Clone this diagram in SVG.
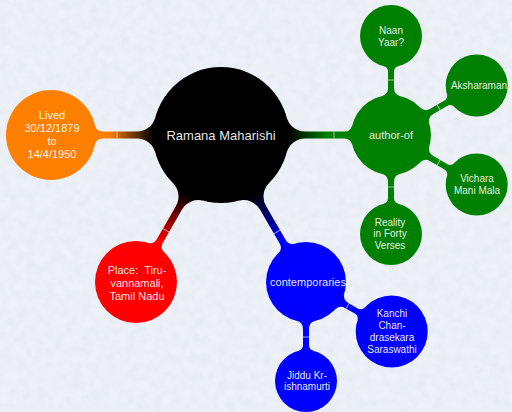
<svg xmlns="http://www.w3.org/2000/svg" width="512" height="412" viewBox="0 0 512 412">
  <defs>
    <style>
      .lbl { font-family: "Liberation Sans", Arial, sans-serif; fill: #ffffff; fill-opacity: 0.92; text-anchor: middle; }
      .l0 { font-size: 13px; }
      .l1 { font-size: 11px; }
      .l2 { font-size: 10px; }
      .tick { stroke: #ffffff; stroke-opacity: 0.75; stroke-width: 0.8; }
      .paren { font-family: "Liberation Serif", "Times New Roman", serif; font-size: 14px; fill: #000; }
    </style>
    <!-- paper texture -->
    <filter id="paper" x="0" y="0" width="512" height="412" filterUnits="userSpaceOnUse">
      <feTurbulence type="fractalNoise" baseFrequency="0.11" numOctaves="2" seed="7" result="n"/>
      <feColorMatrix in="n" type="matrix" values="0 0 0 0 0.4  0 0 0 0 0.45  0 0 0 0 0.55  0.22 0 0 0 -0.07"/>
    </filter>
    <!-- root-to-branch shadings (local frame: root edge at x=68) -->
    <linearGradient id="gOrange" gradientUnits="userSpaceOnUse" x1="68" y1="0" x2="112" y2="0">
      <stop offset="0" stop-color="#000"/><stop offset="1" stop-color="#ff8000"/>
    </linearGradient>
    <linearGradient id="gGreen" gradientUnits="userSpaceOnUse" x1="68" y1="0" x2="106" y2="0">
      <stop offset="0" stop-color="#000"/><stop offset="1" stop-color="#008000"/>
    </linearGradient>
    <linearGradient id="gRed" gradientUnits="userSpaceOnUse" x1="68" y1="0" x2="124" y2="0">
      <stop offset="0" stop-color="#000"/><stop offset="1" stop-color="#ff0000"/>
    </linearGradient>
    <linearGradient id="gBlue" gradientUnits="userSpaceOnUse" x1="68" y1="0" x2="124" y2="0">
      <stop offset="0" stop-color="#000"/><stop offset="1" stop-color="#0000ff"/>
    </linearGradient>
  </defs>

  <rect width="512" height="412" fill="#eef2f8"/>
  <rect width="512" height="412" filter="url(#paper)"/>

  <!-- bits of glyphs cut by the top edge -->
  <text class="paren" x="11" y="-3">(</text>
  <text class="paren" x="119" y="-3">)</text>

  <g id="connectors">
    <!-- root to orange -->
    <g transform="translate(221 135) rotate(180)">
      <path fill="url(#gOrange)" d="M65.7 17.6 A19 19 0 0 1 84 3.5 L118.26 3.5 A8 8 0 0 1 126.07 9.76 L126.07 -9.76 A8 8 0 0 1 118.26 -3.5 L84 -3.5 A19 19 0 0 1 65.7 -17.6 Z"/>
      <line class="tick" x1="104" y1="-3.5" x2="104" y2="3.5"/>
    </g>
    <!-- root to green -->
    <g transform="translate(221 135)">
      <path fill="url(#gGreen)" d="M65.7 17.6 A19 19 0 0 1 84 3.5 L123.4 3.5 A8 8 0 0 1 131.17 9.58 L131.17 -9.58 A8 8 0 0 1 123.4 -3.5 L84 -3.5 A19 19 0 0 1 65.7 -17.6 Z"/>
      <line class="tick" x1="113" y1="-3.5" x2="113" y2="3.5"/>
    </g>
    <!-- root to red -->
    <g transform="translate(221 135) rotate(120)">
      <path fill="url(#gRed)" d="M65.7 17.6 A19 19 0 0 1 84 3.5 L122.37 3.5 A8 8 0 0 1 130.15 9.62 L130.15 -9.62 A8 8 0 0 1 122.37 -3.5 L84 -3.5 A19 19 0 0 1 65.7 -17.6 Z"/>
      <line class="tick" x1="110" y1="-3.5" x2="110" y2="3.5"/>
    </g>
    <!-- root to blue -->
    <g transform="translate(221 135) rotate(60)">
      <path fill="url(#gBlue)" d="M65.7 17.6 A19 19 0 0 1 84 3.5 L123.4 3.5 A8 8 0 0 1 131.17 9.58 L131.17 -9.58 A8 8 0 0 1 123.4 -3.5 L84 -3.5 A19 19 0 0 1 65.7 -17.6 Z"/>
      <line class="tick" x1="112" y1="-3.5" x2="112" y2="3.5"/>
    </g>

    <!-- author-of children -->
    <g fill="#008000">
      <g transform="translate(391 135) rotate(-90)">
        <path d="M38.86 9.48 A8.5 8.5 0 0 1 47.12 3 L63.11 3 A6 6 0 0 1 68.93 7.54 L68.93 -7.54 A6 6 0 0 1 63.11 -3 L47.12 -3 A8.5 8.5 0 0 1 38.86 -9.48 Z"/>
        <line class="tick" x1="55" y1="-3" x2="55" y2="3"/>
      </g>
      <g transform="translate(391 135) rotate(-30)">
        <path d="M38.86 9.48 A8.5 8.5 0 0 1 47.12 3 L63.11 3 A6 6 0 0 1 68.93 7.54 L68.93 -7.54 A6 6 0 0 1 63.11 -3 L47.12 -3 A8.5 8.5 0 0 1 38.86 -9.48 Z"/>
        <line class="tick" x1="55" y1="-3" x2="55" y2="3"/>
      </g>
      <g transform="translate(391 135) rotate(30)">
        <path d="M38.86 9.48 A8.5 8.5 0 0 1 47.12 3 L63.11 3 A6 6 0 0 1 68.93 7.54 L68.93 -7.54 A6 6 0 0 1 63.11 -3 L47.12 -3 A8.5 8.5 0 0 1 38.86 -9.48 Z"/>
        <line class="tick" x1="55" y1="-3" x2="55" y2="3"/>
      </g>
      <g transform="translate(391 135) rotate(90)">
        <path d="M38.86 9.48 A8.5 8.5 0 0 1 47.12 3 L63.11 3 A6 6 0 0 1 68.93 7.54 L68.93 -7.54 A6 6 0 0 1 63.11 -3 L47.12 -3 A8.5 8.5 0 0 1 38.86 -9.48 Z"/>
        <line class="tick" x1="52" y1="-3" x2="52" y2="3"/>
      </g>
    </g>

    <!-- contemporaries children -->
    <g fill="#0000ff">
      <g transform="translate(306 282) rotate(30)">
        <path d="M38.86 9.48 A8.5 8.5 0 0 1 47.12 3 L57.98 3 A6 6 0 0 1 63.84 7.71 L63.84 -7.71 A6 6 0 0 1 57.98 -3 L47.12 -3 A8.5 8.5 0 0 1 38.86 -9.48 Z"/>
        <line class="tick" x1="48" y1="-3" x2="48" y2="3"/>
      </g>
      <g transform="translate(306 282) rotate(90)">
        <path d="M38.86 9.48 A8.5 8.5 0 0 1 47.12 3 L63.11 3 A6 6 0 0 1 68.93 7.54 L68.93 -7.54 A6 6 0 0 1 63.11 -3 L47.12 -3 A8.5 8.5 0 0 1 38.86 -9.48 Z"/>
        <line class="tick" x1="55" y1="-3" x2="55" y2="3"/>
      </g>
    </g>
  </g>

  <g id="n-root">
    <circle cx="221" cy="135" r="68" fill="#000"/>
    <text class="lbl l0" x="221" y="140">Ramana Maharishi</text>
  </g>

  <g id="n-lived">
    <circle cx="51" cy="135" r="45" fill="#ff8000"/>
    <text class="lbl l1"><tspan x="52" y="118.5">Lived</tspan><tspan x="52" y="131.5">30/12/1879</tspan><tspan x="52" y="144.5">to</tspan><tspan x="52" y="157.5">14/4/1950</tspan></text>
  </g>

  <g id="n-author">
    <circle cx="391" cy="135" r="40" fill="#008000"/>
    <text class="lbl l1" x="391" y="139">author-of</text>
  </g>

  <g id="n-place">
    <circle cx="136" cy="282" r="41" fill="#ff0000"/>
    <text class="lbl l1"><tspan x="137" y="274">Place:&#160; Tiru-</tspan><tspan x="137" y="287">vannamali,</tspan><tspan x="137" y="300">Tamil Nadu</tspan></text>
  </g>

  <g id="n-contemporaries">
    <circle cx="306" cy="282" r="40" fill="#0000ff"/>
    <text class="lbl l1" x="308" y="286">contemporaries</text>
  </g>

  <g id="n-naan">
    <circle cx="391" cy="36" r="31" fill="#008000"/>
    <text class="lbl l2"><tspan x="391" y="33.5">Naan</tspan><tspan x="391" y="45.5">Yaar?</tspan></text>
  </g>

  <g id="n-aksharaman">
    <circle cx="476.7" cy="85.5" r="31" fill="#008000"/>
    <text class="lbl l2" x="479" y="89">Aksharaman</text>
  </g>

  <g id="n-vichara">
    <circle cx="476.7" cy="184.5" r="31" fill="#008000"/>
    <text class="lbl l2"><tspan x="477" y="182">Vichara</tspan><tspan x="477" y="194">Mani Mala</tspan></text>
  </g>

  <g id="n-reality">
    <circle cx="391" cy="234" r="31" fill="#008000"/>
    <text class="lbl l2"><tspan x="390" y="225.5">Reality</tspan><tspan x="390" y="237">in Forty</tspan><tspan x="390" y="248.5">Verses</tspan></text>
  </g>

  <g id="n-kanchi">
    <circle cx="391.7" cy="331.5" r="36" fill="#0000ff"/>
    <text class="lbl l2"><tspan x="392" y="316.5">Kanchi</tspan><tspan x="392" y="328.5">Chan-</tspan><tspan x="392" y="340.5">drasekara</tspan><tspan x="392" y="352.5">Saraswathi</tspan></text>
  </g>

  <g id="n-jiddu">
    <circle cx="306" cy="381" r="31" fill="#0000ff"/>
    <text class="lbl l2"><tspan x="307" y="379">Jiddu Kr-</tspan><tspan x="307" y="390">ishnamurti</tspan></text>
  </g>
</svg>
